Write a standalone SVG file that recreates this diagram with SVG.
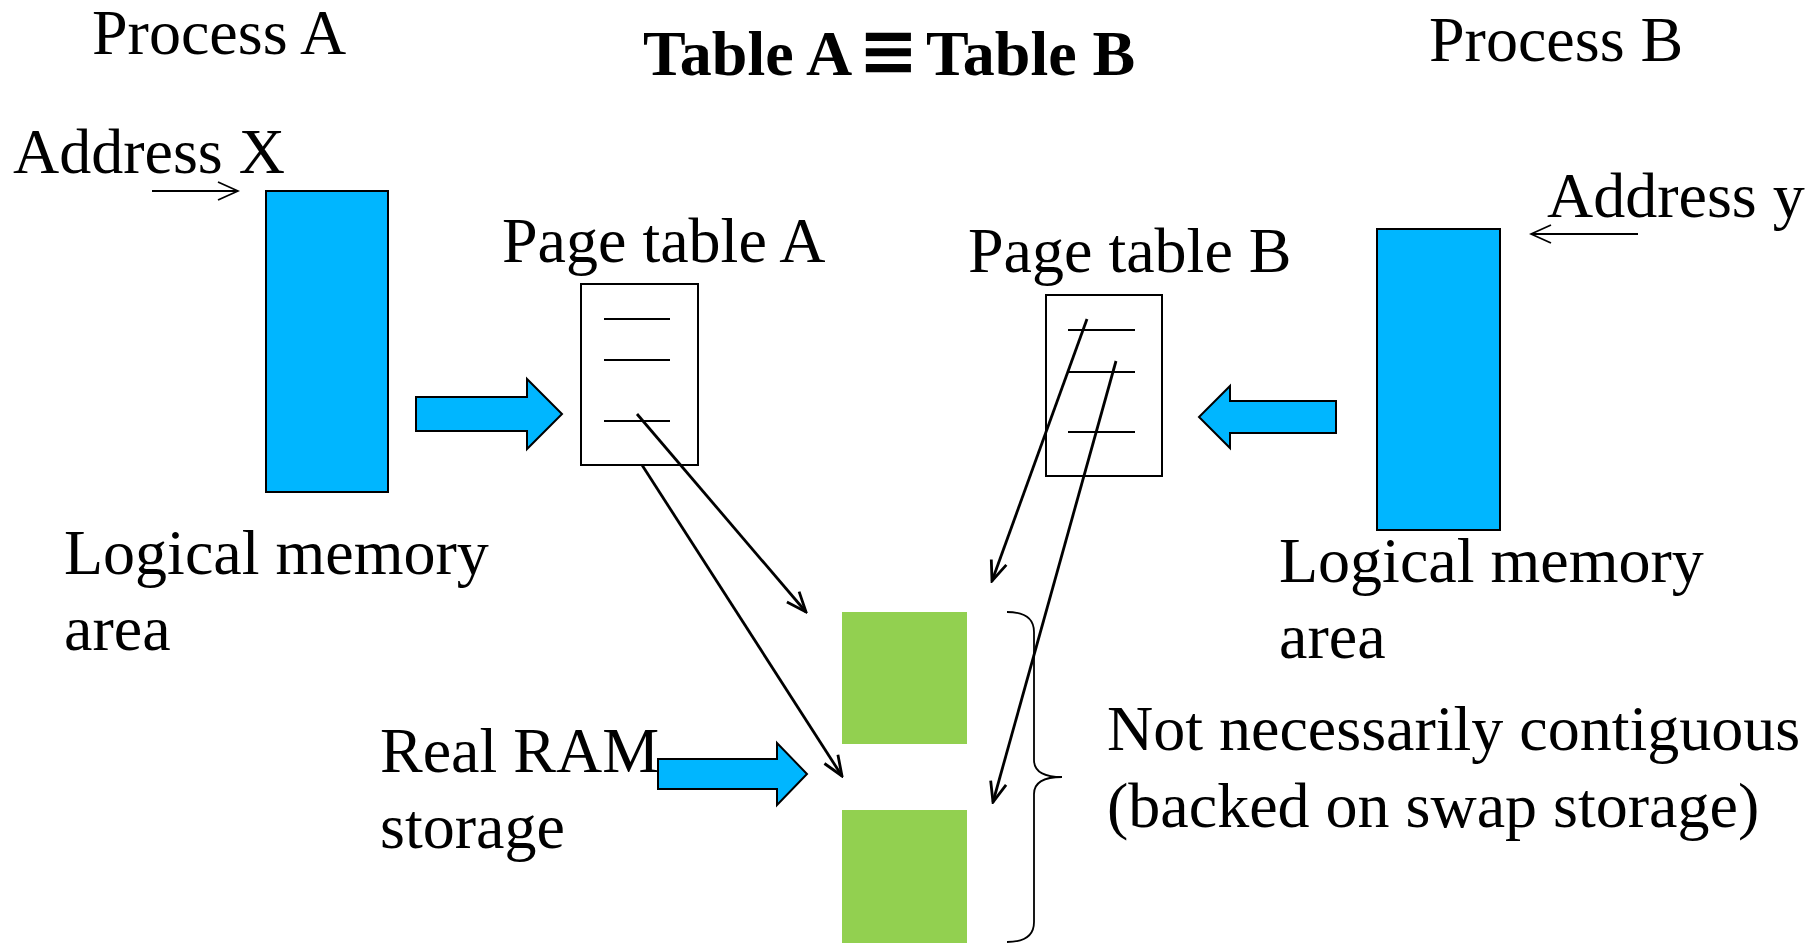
<svg xmlns="http://www.w3.org/2000/svg" width="1819" height="944" viewBox="0 0 1819 944">
<style>
text{font-family:"Liberation Serif","Times New Roman",serif;font-size:64px;fill:#000}
.title{font-weight:bold;font-size:64px}
.eq{font-family:"DejaVu Sans",sans-serif;font-size:72px;font-weight:bold}
.mem{fill:#00B6FF;stroke:#000;stroke-width:2}
.ram{fill:#92D050}
.pt{fill:#fff;stroke:#000;stroke-width:2}
.row{stroke:#000;stroke-width:2}
.conn{stroke:#000;stroke-width:2.8;fill:none}
.thin{stroke:#000;stroke-width:1.8;fill:none}
</style>
<defs>
<marker id="open" viewBox="-24 -12 26 24" refX="0" refY="0" markerWidth="26" markerHeight="24" markerUnits="userSpaceOnUse" orient="auto"><path d="M-20,-8 L0,0 L-20,8" fill="none" stroke="#000" stroke-width="2.8"/></marker>
<marker id="openThin" viewBox="-24 -12 26 24" refX="0" refY="0" markerWidth="26" markerHeight="24" markerUnits="userSpaceOnUse" orient="auto"><path d="M-20,-9 L0,0 L-20,9" fill="none" stroke="#000" stroke-width="1.8"/></marker>
</defs>
<rect width="1819" height="944" fill="#fff"/>
<g id="title"><text class="title" y="75"><tspan x="643">Table A</tspan><tspan class="eq" x="858" y="75">≡</tspan><tspan x="926" y="75">Table B</tspan></text></g>
<g id="processA">
<text x="92" y="54">Process A</text>
<text x="13" y="173">Address X</text>
<rect class="mem" x="266" y="191" width="122" height="301"/>
<text x="64" y="574">Logical memory</text>
<text x="64" y="650">area</text>
</g>
<g id="pageTableA">
<text x="502" y="262">Page table A</text>
<rect class="pt" x="581" y="284" width="117" height="181"/>
<line class="row" x1="604" y1="319" x2="670" y2="319"/>
<line class="row" x1="604" y1="360" x2="670" y2="360"/>
<line class="row" x1="604" y1="421" x2="670" y2="421"/>
</g>
<g id="pageTableB">
<text x="968" y="272">Page table B</text>
<rect class="pt" x="1046" y="295" width="116" height="181"/>
<line class="row" x1="1068" y1="330" x2="1135" y2="330"/>
<line class="row" x1="1068" y1="372" x2="1135" y2="372"/>
<line class="row" x1="1068" y1="432" x2="1135" y2="432"/>
</g>
<g id="processB">
<text x="1429" y="61">Process B</text>
<text x="1547" y="217">Address y</text>
<rect class="mem" x="1377" y="229" width="123" height="301"/>
<text x="1279" y="582">Logical memory</text>
<text x="1279" y="658">area</text>
</g>
<g id="realRAM">
<text x="380" y="772">Real RAM</text>
<text x="380" y="848">storage</text>
<rect class="ram" x="842" y="612" width="125" height="132"/>
<rect class="ram" x="842" y="810" width="125" height="133"/>
</g>
<g id="note">
<path class="thin" d="M1007,612 Q1034,612 1034,632 L1034,760 Q1034,777 1062,777 Q1034,777 1034,794 L1034,922 Q1034,942 1007,942"/>
<text x="1107" y="750">Not necessarily contiguous</text>
<text x="1107" y="827">(backed on swap storage)</text>
</g>
<g id="connectors">
<polygon class="mem" points="416,397 527,397 527,379 562,414 527,449 527,431 416,431"/>
<polygon class="mem" points="1336,401 1230,401 1230,386 1199,417 1230,448 1230,433 1336,433"/>
<polygon class="mem" points="658,759 777,759 777,743 807,774 777,805 777,789 658,789"/>
<line class="thin" x1="152" y1="191" x2="238" y2="191" marker-end="url(#openThin)"/>
<line class="thin" x1="1638" y1="234" x2="1531" y2="234" marker-end="url(#openThin)"/>
<line class="conn" x1="637" y1="414" x2="806" y2="612" marker-end="url(#open)"/>
<line class="conn" x1="642" y1="465" x2="842" y2="776" marker-end="url(#open)"/>
<line class="conn" x1="1087" y1="319" x2="992" y2="581" marker-end="url(#open)"/>
<line class="conn" x1="1116" y1="361" x2="993" y2="802" marker-end="url(#open)"/>
</g>
</svg>
